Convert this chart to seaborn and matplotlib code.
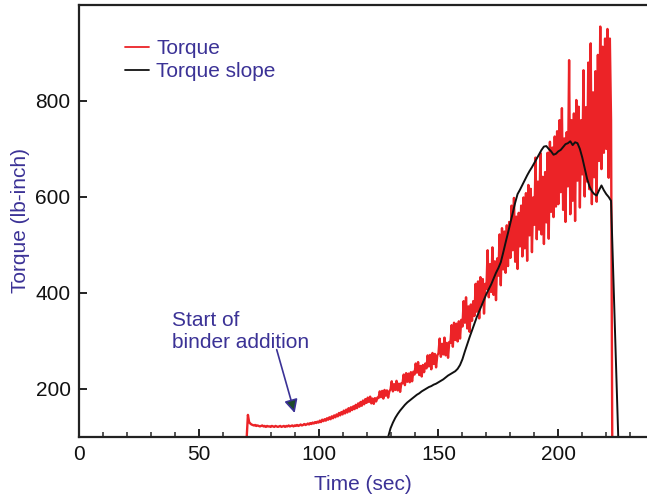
import numpy as np
import pandas as pd
import matplotlib.pyplot as plt
import seaborn as sns
from matplotlib.ticker import MultipleLocator

# ── data ───────────────────────────────────────────────────────────────────────
# torque signal, sampled every 0.5 s starting at t = 70 s
torque_t0 = 70.0
torque_dt = 0.5
torque_vals = [
    100, 146, 131, 128, 126, 125, 124, 125, 123, 124,   # 70
    123, 122, 123, 124, 122, 123, 121, 123, 122, 122,   # 75
    121, 123, 122, 121, 123, 122, 121, 122, 123, 121,   # 80
    122, 123, 121, 123, 122, 124, 122, 123, 124, 122,   # 85
    124, 123, 125, 123, 124, 126, 124, 125, 127, 125,   # 90
    126, 128, 126, 129, 127, 130, 128, 131, 129, 132,   # 95
    130, 134, 131, 136, 133, 137, 134, 139, 136, 141,   # 100
    137, 143, 139, 145, 141, 147, 143, 150, 145, 152,   # 105
    147, 155, 149, 157, 151, 160, 153, 162, 156, 164,   # 110
    158, 167, 160, 170, 163, 173, 165, 176, 168, 179,   # 115
    171, 182, 173, 184, 170, 180, 169, 181, 174, 182,   # 120
    181, 195, 183, 196, 180, 198, 186, 197, 182, 195,   # 125
    199, 216, 195, 210, 198, 217, 197, 211, 194, 212,   # 130
    212, 230, 208, 233, 215, 232, 214, 235, 216, 236,   # 135
    230, 253, 234, 256, 229, 248, 226, 250, 235, 253,   # 140
    243, 270, 247, 271, 241, 275, 252, 273, 245, 270,   # 145
    274, 305, 267, 294, 272, 307, 270, 296, 265, 298,   # 150
    296, 333, 288, 338, 302, 336, 299, 341, 305, 344,   # 155
    330, 383, 338, 391, 326, 372, 319, 376, 342, 383,   # 160
    352, 419, 361, 424, 347, 433, 376, 429, 357, 419,   # 165
    408, 489, 391, 460, 402, 495, 396, 466, 385, 472,   # 170
    436, 522, 416, 535, 449, 528, 442, 541, 456, 548,   # 175
    473, 582, 489, 598, 465, 559, 450, 567, 497, 582,   # 180
    476, 599, 493, 608, 467, 625, 520, 617, 485, 599,   # 185
    542, 682, 512, 632, 532, 692, 522, 642, 502, 652,   # 190
    547, 692, 513, 715, 569, 703, 558, 726, 580, 737,   # 195
    585, 760, 610, 785, 573, 722, 548, 735, 622, 885,   # 200
    564, 760, 592, 774, 550, 802, 634, 788, 578, 760,   # 205
    647, 864, 601, 787, 632, 880, 616, 920, 585, 818,   # 210
    641, 862, 590, 896, 675, 955, 658, 913, 692, 930,   # 215
    700, 950, 640, 930, 760, 100,                       # 220
]

# torque slope, sampled every 1 s starting at t = 129 s
slope_t0 = 129.0
slope_dt = 1.0
slope_vals = [
    100, 118, 130, 140, 148, 155, 161, 167, 172, 176,   # 129
    180, 184, 188, 191, 195, 198, 201, 204, 206, 209,   # 139
    211, 214, 217, 220, 224, 228, 231, 234, 237, 242,   # 149
    250, 262, 278, 293, 308, 322, 336, 350, 362, 374,   # 159
    386, 398, 408, 418, 430, 442, 452, 464, 484, 505,   # 169
    525, 546, 567, 588, 606, 615, 625, 635, 645, 654,   # 179
    662, 671, 680, 689, 698, 705, 706, 700, 695, 688,   # 189
    690, 695, 698, 704, 710, 712, 716, 708, 714, 712,   # 199
    700, 682, 660, 638, 622, 612, 606, 603, 614, 624,   # 209
    614, 606, 600, 592, 427, 263, 100,                  # 219
]

annot_text = "Start of\nbinder addition"
annot_tip = (90, 150)
annot_tail = (82.5, 282)
annot_pos = (39, 363)

x_ticks = [0, 50, 100, 150, 200]
y_ticks = [200, 400, 600, 800]

# ── build frames ───────────────────────────────────────────────────────────────
torque_df = pd.DataFrame({
    "time": torque_t0 + torque_dt * np.arange(len(torque_vals)),
    "value": torque_vals,
})
slope_df = pd.DataFrame({
    "time": slope_t0 + slope_dt * np.arange(len(slope_vals)),
    "value": slope_vals,
})

# ── style ──────────────────────────────────────────────────────────────────────
sns.set_style("ticks")
plt.rcParams["font.family"] = ["Liberation Sans", "DejaVu Sans"]

TXT = "#3b3296"
RED = "#ec2327"
FS = 15

fig = plt.figure(figsize=(6.47, 4.96), dpi=100)
ax = fig.add_axes([0.122, 0.119, 0.878, 0.871])

sns.lineplot(data=torque_df, x="time", y="value", ax=ax, color=RED, lw=1.7,
             estimator=None, sort=False, label="Torque")
sns.lineplot(data=slope_df, x="time", y="value", ax=ax, color="#111111", lw=1.4,
             estimator=None, sort=False, label="Torque slope")

ax.set_xlim(0, 237)
ax.set_ylim(100, 1000)
ax.set_xticks(x_ticks)
ax.set_yticks(y_ticks)
ax.xaxis.set_minor_locator(MultipleLocator(10))
ax.tick_params(axis="both", which="major", direction="in", length=6, width=1.3,
               labelsize=FS, pad=6, colors="#111111")
ax.tick_params(axis="x", which="minor", direction="in", length=3.5, width=1.1)

for side in ["left", "bottom", "top"]:
    ax.spines[side].set_linewidth(1.6)
    ax.spines[side].set_color("#222222")
ax.spines["right"].set_visible(False)

ax.set_xlabel("Time (sec)", fontsize=FS, color=TXT, labelpad=8)
ax.set_ylabel("Torque (lb-inch)", fontsize=FS, color=TXT, labelpad=4)

leg = ax.legend(loc="upper left", bbox_to_anchor=(0.066, 0.94), frameon=False,
                fontsize=FS, handlelength=1.15, handletextpad=0.35,
                labelspacing=0.2, borderaxespad=0)
for t in leg.get_texts():
    t.set_color(TXT)
for h in leg.get_lines():
    h.set_linewidth(1.3)

ax.annotate("", xy=annot_tip, xytext=annot_tail,
            arrowprops=dict(arrowstyle="-|>", mutation_scale=20,
                            facecolor="#1d4a2a", edgecolor=TXT, lw=1.2,
                            shrinkA=0, shrinkB=0))
ax.text(*annot_pos, annot_text, fontsize=FS, color=TXT, va="top", ha="left",
        linespacing=1.2)

fig.savefig("out.png", dpi=100)
